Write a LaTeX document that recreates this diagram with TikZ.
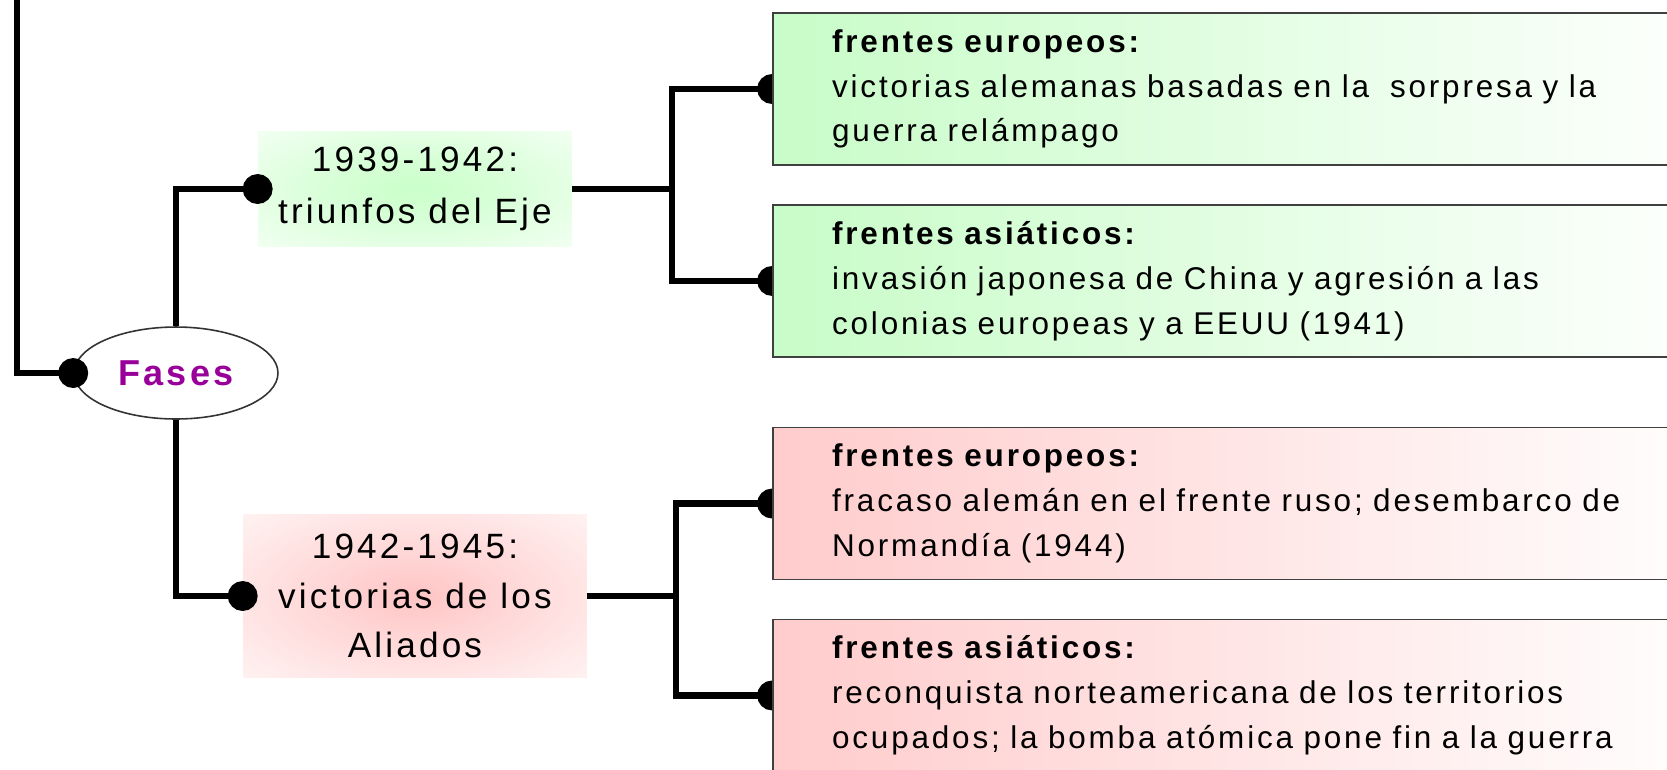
\documentclass[tikz,border=0pt]{standalone}
\usepackage{fontspec}
\setmainfont{Liberation Sans}[LetterSpace=9]
\usepackage{tikz}
\usetikzlibrary{shapes.geometric, arrows.meta, backgrounds}

\definecolor{fasepurple}{HTML}{990099}
\definecolor{boxgreen}{HTML}{C8FCC8}
\definecolor{boxpink}{HTML}{FFCCCC}
\pgfdeclareradialshading{brilloverde}{\pgfpoint{0bp}{0bp}}{color(0bp)=(green!21!white); color(15bp)=(green!15!white); color(38bp)=(green!4!white); color(55bp)=(green!1!white); color(70bp)=(white)}
\pgfdeclareradialshading{brillorosa}{\pgfpoint{0bp}{0bp}}{color(0bp)=(red!23!white); color(15bp)=(red!15!white); color(38bp)=(red!4!white); color(55bp)=(red!1!white); color(70bp)=(white)}

\tikzstyle{fase} = [ellipse, minimum width=4.08cm, minimum height=1.84cm, draw=black!80, line width=0.9pt, fill=white, text=fasepurple, font=\bfseries\fontsize{20.5}{24}\selectfont]
\tikzstyle{periodo} = [rectangle, align=center, font=\fontsize{20}{28}\selectfont]
\tikzstyle{frente} = [rectangle, text width=16.58cm, inner xsep=1.18cm, minimum height=3.04cm, align=left, draw=black!75, line width=1.1pt, font=\fontsize{17.9}{25.5}\selectfont]
\tikzstyle{tronco} = [line width=3.5pt]
\tikzstyle{rama} = [line width=3.5pt, -{Circle[length=17pt]}, shorten >=-8.5pt]

\begin{document}
\begin{tikzpicture}[x=0.02cm, y=-0.02cm]
    \useasboundingbox (0,0) rectangle (1667,769);
    \clip (0,0) rectangle (1667,769);

    \node (fases) [fase] at (176,373) {Fases};
    \node (eje) [periodo, font=\fontsize{20}{29.5}\selectfont, minimum width=6.28cm, minimum height=2.3cm, shading=brilloverde] at (415,189) {1939-1942:\\ triunfos del Eje};
    \node (aliados) [periodo, minimum width=6.88cm, minimum height=3.26cm, shading=brillorosa] at (415,596) {1942-1945:\\ victorias de los\\ Aliados};

    \node (eur1) [frente, left color=boxgreen, right color=white] at (1246.5,89) {\textbf{frentes europeos:}\\ victorias alemanas basadas en la\ \ sorpresa y la\\ guerra relámpago};
    \node (asia1) [frente, left color=boxgreen, right color=white, below of=eur1, node distance=3.84cm] {\textbf{frentes asiáticos:}\\ invasión japonesa de China y agresión a las\\ colonias europeas y a EEUU (1941)};
    \node (eur2) [frente, left color=boxpink, right color=white] at (1246.5,503.5) {\textbf{frentes europeos:}\\ fracaso alemán en el frente ruso; desembarco de\\ Normandía (1944)};
    \node (asia2) [frente, left color=boxpink, right color=white, below of=eur2, node distance=3.84cm] {\textbf{frentes asiáticos:}\\ reconquista norteamericana de los territorios\\ ocupados; la bomba atómica pone fin a la guerra};

    \coordinate (arriba) at (17,-20);
    \coordinate (bus1) at (672,189);
    \coordinate (bus2) at (676,596);

    \draw [rama] (arriba) |- (fases.west);
    \draw [rama] (fases.north) |- (eje.west);
    \draw [rama] (fases.south) |- (aliados.west);
    \draw [tronco] (eje.east) -- (bus1);
    \draw [tronco] (aliados.east) -- (bus2);
    \begin{scope}[on background layer]
        \draw [rama] (bus1) |- (eur1.west);
        \draw [rama] (bus1) |- (asia1.west);
        \draw [rama] (bus2) |- (eur2.west);
        \draw [rama] (bus2) |- (asia2.west);
    \end{scope}
\end{tikzpicture}
\end{document}
